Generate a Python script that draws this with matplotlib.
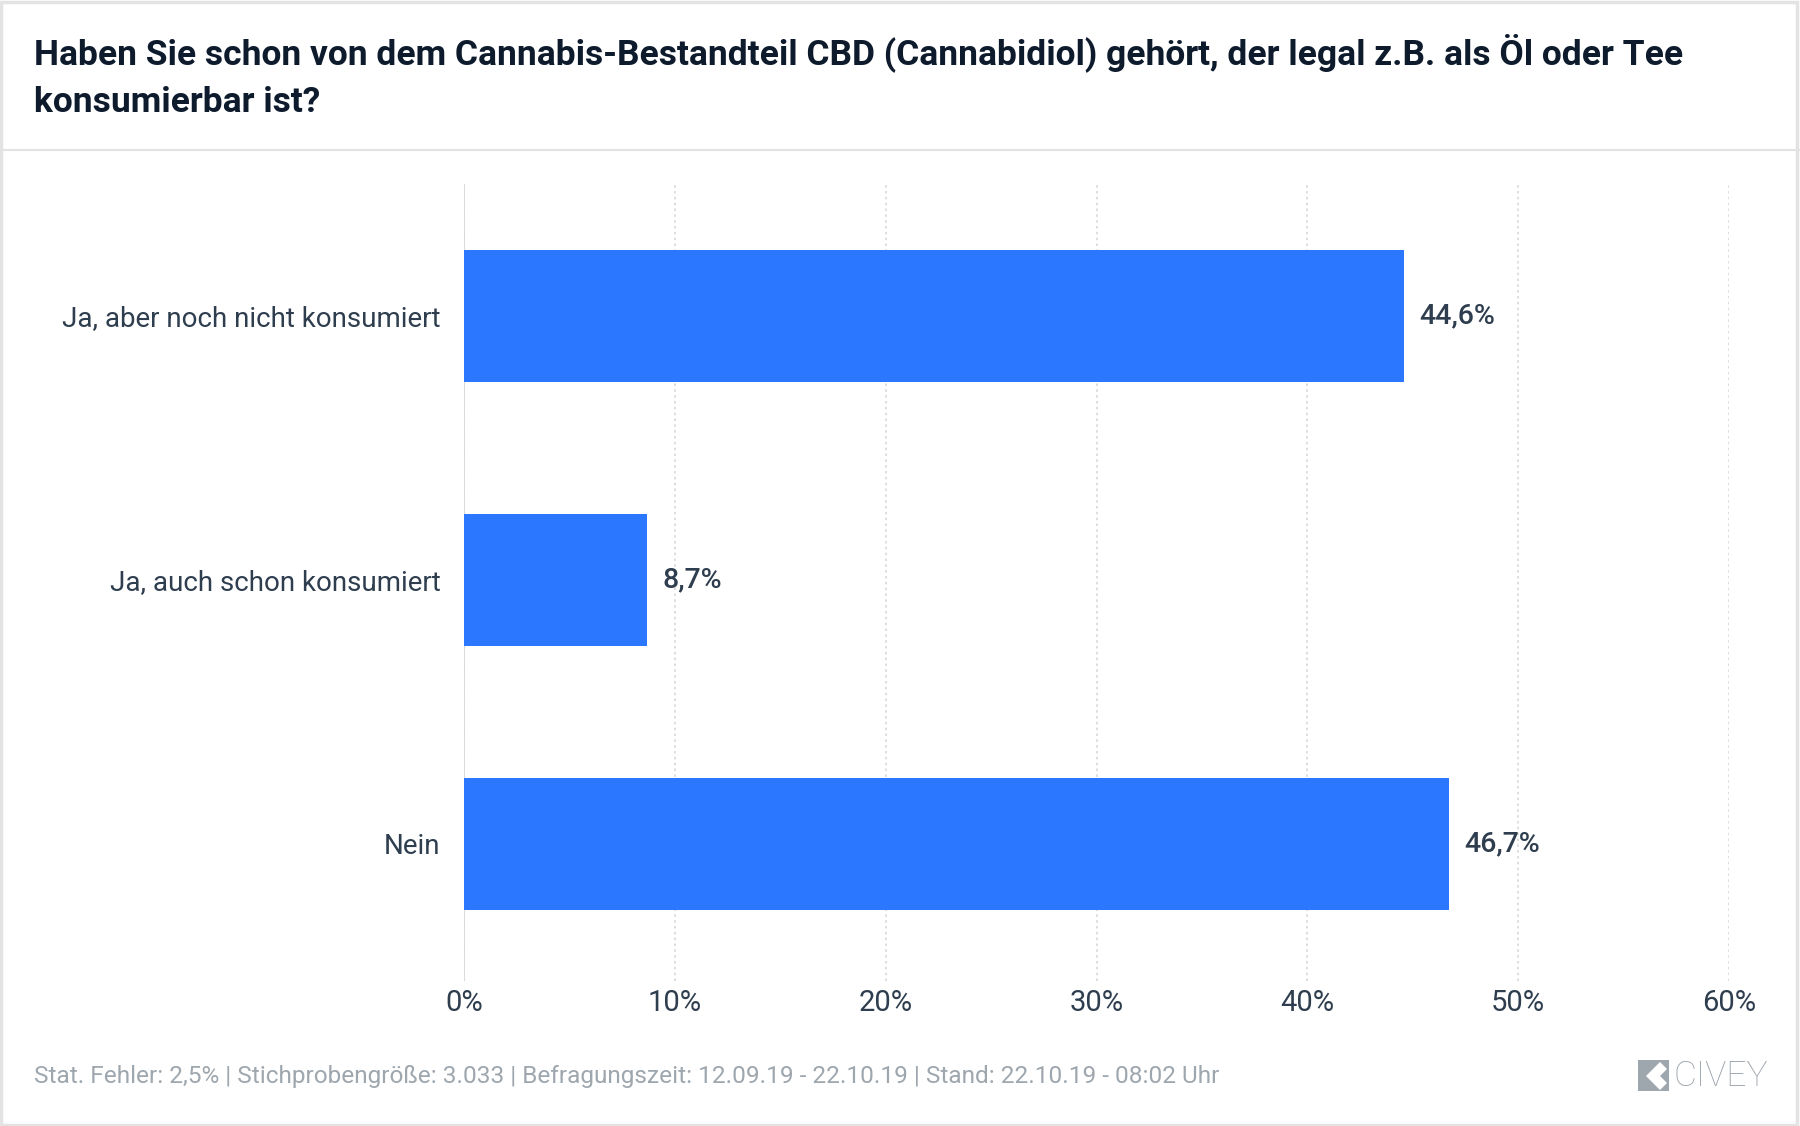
import matplotlib
matplotlib.use("Agg")
import matplotlib.pyplot as plt
from matplotlib.patches import Rectangle, Polygon
from matplotlib.lines import Line2D

plt.rcParams['font.family'] = ['Roboto', 'DejaVu Sans']

# Daten
categories = ["Ja, aber noch nicht konsumiert", "Ja, auch schon konsumiert", "Nein"]
values = [44.6, 8.7, 46.7]
xticks = [0, 10, 20, 30, 40, 50, 60]
title = ("Haben Sie schon von dem Cannabis-Bestandteil CBD (Cannabidiol) gehört, der legal z.B. als Öl oder Tee\n"
         "konsumierbar ist?")
footer = ("Stat. Fehler: 2,5% | Stichprobengröße: 3.033 | Befragungszeit: 12.09.19 - 22.10.19 | "
          "Stand: 22.10.19 - 08:02 Uhr")

BAR = "#2b77ff"
DARK = "#2e3e4f"
GRAY = "#9ea6ae"
W, H = 1800, 1126

fig = plt.figure(figsize=(18, 11.26), dpi=100)
ax = fig.add_axes([464 / W, 1 - 981 / H, (1729 - 464) / W, (981 - 184) / H])

y = list(range(len(categories)))
ax.barh(y, values, height=0.5, color=BAR, zorder=3)
for yi, v in zip(y, values):
    ax.text(v + 0.72, yi, f"{v:.1f}".replace(".", ",") + "%", va="center", ha="left",
            fontsize=20.5, fontweight="medium", color=DARK)

ax.set_xlim(0, 60)
ax.set_ylim(2.52, -0.5)
ax.set_xticks(xticks)
ax.set_xticklabels([f"{t}%" for t in xticks], fontsize=21, color=DARK)
ax.set_yticks(y)
ax.set_yticklabels(categories, fontsize=20, color=DARK)
ax.tick_params(axis="both", length=0)
ax.tick_params(axis="x", pad=6)
ax.tick_params(axis="y", pad=17)
for s in ax.spines.values():
    s.set_visible(False)
ax.grid(axis="x", color="#d8d8d8", linestyle=(0, (1.5, 2)), linewidth=1.2, zorder=0)
ax.axvline(0, color="#dcdcdc", linewidth=1.5, zorder=1)

# Titel und Rahmen
fig.text(34 / W, 1 - 76 / H, title, fontsize=25.5, fontweight="semibold", color="#0d1b2d",
         va="center", ha="left", linespacing=1.52)
fig.text(34 / W, 1 - 1076 / H, footer, fontsize=17.6, color=GRAY, va="center", ha="left")
fig.add_artist(Line2D([0, 1], [1 - 150 / H, 1 - 150 / H], color="#e3e3e3", linewidth=1.5))
fig.add_artist(Rectangle((0.0005, 0.001), 0.998, 0.997, fill=False, edgecolor="#e3e3e3",
                         linewidth=2.5, transform=fig.transFigure))

# Logo
fig.add_artist(Rectangle((1638 / W, 1 - 1091 / H), 31 / W, 31 / H, facecolor=GRAY,
                         edgecolor="none", transform=fig.transFigure))
chev = [(1646, 1076), (1660, 1062), (1667, 1069), (1660, 1076), (1667, 1083), (1660, 1090)]
fig.add_artist(Polygon([(px / W, 1 - py / H) for px, py in chev], closed=True,
                       facecolor="white", edgecolor="none", transform=fig.transFigure))
fig.text(1673 / W, 1 - 1076 / H, "CIVEY", fontsize=25.5, fontweight="light", color=GRAY,
         va="center", ha="left")

fig.savefig("out.png", dpi=100, facecolor="white")
